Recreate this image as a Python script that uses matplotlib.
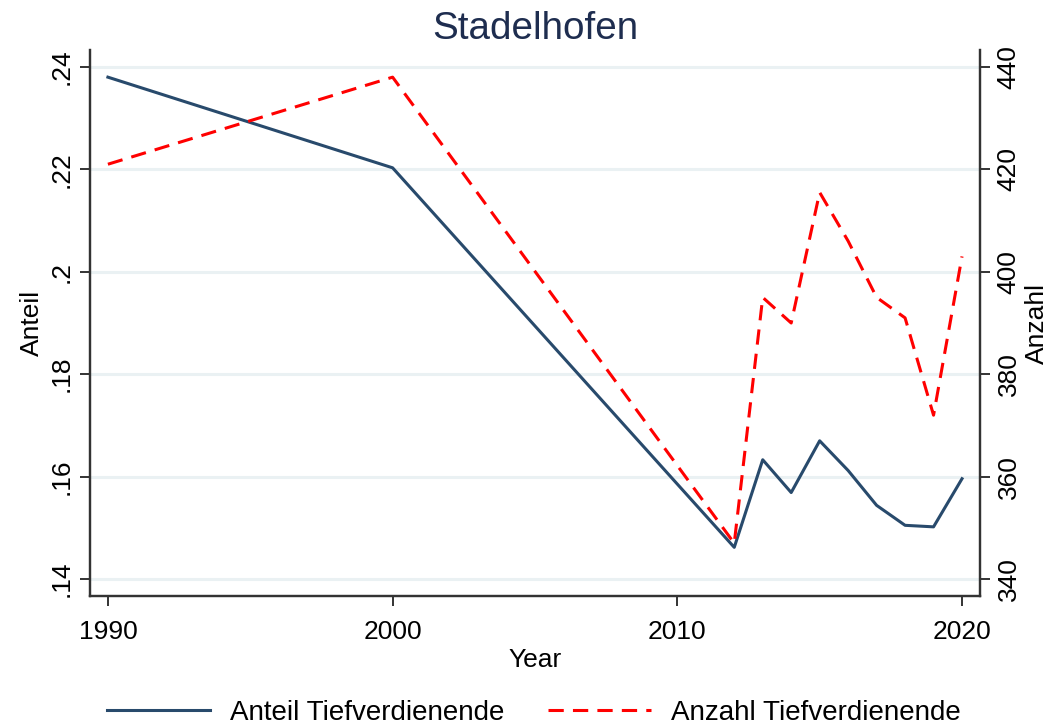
import matplotlib
matplotlib.use('Agg')
import matplotlib.pyplot as plt

plt.rcParams['font.family'] = ['Liberation Sans', 'DejaVu Sans']

# Data
years = [1990, 2000, 2012, 2013, 2014, 2015, 2016, 2017, 2018, 2019, 2020]
anteil = [0.2380, 0.2203, 0.1462, 0.1633, 0.1569, 0.1670, 0.1612, 0.1544, 0.1505, 0.1502, 0.1596]
anzahl = [421, 438, 347, 395, 390, 415.5, 406, 395, 391, 372, 403]

x_ticks = [1990, 2000, 2010, 2020]
left_ticks = [0.14, 0.16, 0.18, 0.20, 0.22, 0.24]
left_labels = ['.14', '.16', '.18', '.2', '.22', '.24']
right_ticks = [340, 360, 380, 400, 420, 440]

navy = '#284a6c'
red = '#ff0000'
grid_col = '#eaf1f3'
fs = 19

fig = plt.figure(figsize=(10.51, 7.27), dpi=100)
ax = fig.add_axes([0.0856, 0.1802, 0.8468, 0.7510])
ax2 = ax.twinx()

# gridlines follow the left axis
for t in left_ticks:
    ax.axhline(t, color=grid_col, lw=2.2, zorder=0)

l1, = ax.plot(years, anteil, color=navy, lw=2.2, label='Anteil Tiefverdienende', zorder=3)
l2, = ax2.plot(years, anzahl, color=red, lw=2.2, ls=(0, (5, 3)), label='Anzahl Tiefverdienende', zorder=3)

ax.set_xlim(1989.37, 2020.63)
ax.set_ylim(0.1367, 0.2433)
ax2.set_ylim(336.7, 443.3)

ax.set_xticks(x_ticks)
ax.set_xticklabels([str(y) for y in x_ticks], fontsize=fs)
ax.set_yticks(left_ticks)
ax.set_yticklabels(left_labels, fontsize=fs, rotation=90, va='center')
ax2.set_yticks(right_ticks)
ax2.set_yticklabels([str(v) for v in right_ticks], fontsize=fs, rotation=90, va='center')

for a in (ax, ax2):
    a.spines['top'].set_visible(False)
    for s in ('left', 'right', 'bottom'):
        a.spines[s].set_color('#333333')
        a.spines[s].set_linewidth(1.6)
    a.tick_params(length=7, width=1.4, color='#333333', pad=5)
ax.tick_params(axis='x', pad=10)

ax.set_xlabel('Year', fontsize=fs, labelpad=3)
ax.set_ylabel('Anteil', fontsize=fs, labelpad=4)
ax2.set_ylabel('Anzahl', fontsize=fs, labelpad=3, rotation=90)

ax.set_title('Stadelhofen', fontsize=27.8, color='#1e2d4f', pad=8)

fig.legend(handles=[l1, l2], loc='lower center', bbox_to_anchor=(0.508, -0.033),
           ncol=2, frameon=False, fontsize=20, handlelength=3.7,
           columnspacing=1.6, handletextpad=0.7)

fig.savefig('out.png', dpi=100, facecolor='white')
